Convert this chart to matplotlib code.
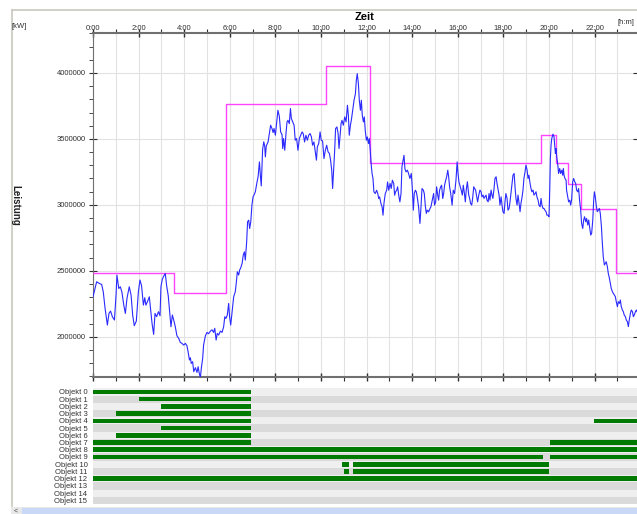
import matplotlib
matplotlib.use("Agg")
import matplotlib.pyplot as plt
from matplotlib.ticker import MultipleLocator, FuncFormatter
from matplotlib.lines import Line2D
from matplotlib.patches import Rectangle

plt.rcParams['font.family'] = ['Liberation Sans', 'DejaVu Sans']

# measured load [kW] over the day (hours)
load_h = [0.00, 0.16, 0.28, 0.38, 0.45, 0.53, 0.63, 0.70, 0.77, 0.85, 0.94, 1.01, 1.05, 1.13, 1.20, 1.27,
          1.35, 1.42, 1.49, 1.59, 1.67, 1.74, 1.81, 1.90, 1.99, 2.06, 2.13, 2.21, 2.27, 2.32, 2.40, 2.47,
          2.53, 2.59, 2.66, 2.72, 2.79, 2.87, 2.94, 2.98, 3.04, 3.11, 3.17, 3.23, 3.30, 3.38, 3.42, 3.48,
          3.54, 3.61, 3.68, 3.76, 3.83, 3.90, 3.98, 4.05, 4.12, 4.17, 4.23, 4.27, 4.31, 4.37, 4.42, 4.49,
          4.56, 4.61, 4.66, 4.71, 4.75, 4.81, 4.85, 4.93, 5.00, 5.07, 5.15, 5.22, 5.29, 5.34, 5.40, 5.45,
          5.51, 5.59, 5.66, 5.73, 5.78, 5.83, 5.89, 5.95, 5.99, 6.04, 6.10, 6.17, 6.24, 6.29, 6.33, 6.39,
          6.43, 6.48, 6.54, 6.59, 6.64, 6.68, 6.74, 6.78, 6.83, 6.87, 6.92, 6.97, 7.02, 7.06, 7.12, 7.19,
          7.24, 7.30, 7.34, 7.38, 7.44, 7.49, 7.53, 7.56, 7.60, 7.68, 7.73, 7.79, 7.85, 7.90, 7.94, 8.00,
          8.06, 8.11, 8.17, 8.23, 8.29, 8.32, 8.36, 8.41, 8.47, 8.51, 8.55, 8.61, 8.66, 8.70, 8.76, 8.82,
          8.87, 8.93, 8.99, 9.05, 9.11, 9.17, 9.22, 9.28, 9.34, 9.40, 9.46, 9.52, 9.58, 9.63, 9.69, 9.75,
          9.80, 9.84, 9.90, 9.96, 10.01, 10.07, 10.13, 10.19, 10.25, 10.31, 10.37, 10.42, 10.47, 10.51,
          10.56, 10.60, 10.64, 10.70, 10.75, 10.79, 10.83, 10.88, 10.92, 10.98, 11.04, 11.10, 11.16, 11.20,
          11.24, 11.29, 11.33, 11.39, 11.45, 11.51, 11.55, 11.59, 11.64, 11.68, 11.73, 11.77, 11.81, 11.86,
          11.90, 11.94, 11.99, 12.03, 12.08, 12.12, 12.16, 12.21, 12.24, 12.28, 12.32, 12.38, 12.44, 12.49,
          12.53, 12.57, 12.63, 12.68, 12.72, 12.76, 12.82, 12.88, 12.92, 12.97, 13.03, 13.08, 13.13, 13.19,
          13.23, 13.27, 13.32, 13.36, 13.42, 13.46, 13.51, 13.55, 13.60, 13.64, 13.68, 13.73, 13.79, 13.84,
          13.90, 13.96, 14.01, 14.05, 14.09, 14.14, 14.18, 14.22, 14.28, 14.34, 14.39, 14.43, 14.49, 14.53,
          14.58, 14.62, 14.66, 14.72, 14.78, 14.82, 14.88, 14.94, 14.98, 15.03, 15.07, 15.12, 15.16, 15.20,
          15.25, 15.29, 15.34, 15.38, 15.42, 15.47, 15.51, 15.56, 15.60, 15.64, 15.69, 15.75, 15.80, 15.86,
          15.92, 15.97, 16.01, 16.05, 16.11, 16.15, 16.20, 16.24, 16.29, 16.33, 16.37, 16.42, 16.48, 16.52,
          16.56, 16.61, 16.65, 16.70, 16.74, 16.78, 16.83, 16.87, 16.92, 16.97, 17.02, 17.06, 17.11, 17.15,
          17.19, 17.24, 17.28, 17.33, 17.37, 17.41, 17.46, 17.50, 17.54, 17.59, 17.63, 17.68, 17.72, 17.76,
          17.81, 17.85, 17.90, 17.94, 17.98, 18.03, 18.07, 18.11, 18.16, 18.20, 18.25, 18.29, 18.33, 18.38,
          18.42, 18.47, 18.51, 18.55, 18.60, 18.64, 18.68, 18.73, 18.77, 18.82, 18.86, 18.90, 18.95, 18.99,
          19.04, 19.08, 19.12, 19.17, 19.21, 19.25, 19.30, 19.34, 19.39, 19.43, 19.47, 19.52, 19.56, 19.61,
          19.65, 19.69, 19.74, 19.78, 19.82, 19.87, 19.91, 19.96, 20.00, 20.03, 20.06, 20.09, 20.12, 20.175,
          20.22, 20.25, 20.28, 20.31, 20.34, 20.38, 20.42, 20.47, 20.51, 20.56, 20.60, 20.63, 20.66, 20.70,
          20.75, 20.77, 20.82, 20.86, 20.91, 20.95, 20.99, 21.04, 21.08, 21.13, 21.17, 21.21, 21.26, 21.30,
          21.34, 21.39, 21.43, 21.48, 21.52, 21.56, 21.61, 21.65, 21.70, 21.74, 21.78, 21.83, 21.87, 21.92,
          21.96, 21.99, 22.03, 22.08, 22.12, 22.16, 22.21, 22.25, 22.30, 22.34, 22.38, 22.43, 22.47, 22.51,
          22.56, 22.60, 22.65, 22.69, 22.73, 22.78, 22.82, 22.87, 22.91, 22.95, 23.00, 23.04, 23.09, 23.13,
          23.17, 23.22, 23.26, 23.30, 23.35, 23.39, 23.44, 23.48, 23.52, 23.57, 23.61, 23.66, 23.70, 23.74,
          23.79, 23.83, 23.86]
load_kw = [2303000, 2417000, 2404000, 2397000, 2341000, 2215000, 2089000, 2177000, 2195000, 2152000,
           2127000, 2316000, 2467000, 2366000, 2379000, 2336000, 2240000, 2177000, 2291000, 2379000,
           2316000, 2165000, 2084000, 2119000, 2341000, 2430000, 2387000, 2240000, 2296000, 2240000,
           2271000, 2303000, 2202000, 2101000, 2018000, 2177000, 2152000, 2190000, 2159000, 2379000,
           2437000, 2462000, 2480000, 2387000, 2311000, 2159000, 2076000, 2165000, 2127000, 2076000,
           2008000, 1988000, 1957000, 1950000, 1937000, 1950000, 1932000, 1887000, 1824000, 1841000,
           1798000, 1811000, 1735000, 1766000, 1730000, 1773000, 1723000, 1690000, 1761000, 1836000,
           1937000, 2008000, 2033000, 2023000, 2043000, 2053000, 2033000, 2064000, 1975000, 2026000,
           2013000, 2043000, 2033000, 2076000, 2152000, 2139000, 2164000, 2253000, 2152000, 2089000,
           2190000, 2303000, 2341000, 2417000, 2493000, 2468000, 2505000, 2523000, 2556000, 2619000,
           2644000, 2581000, 2720000, 2872000, 2884000, 2821000, 2872000, 2998000, 3061000, 3074000,
           3099000, 3169000, 3212000, 3326000, 3225000, 3144000, 3422000, 3478000, 3447000, 3364000,
           3447000, 3478000, 3533000, 3604000, 3579000, 3548000, 3579000, 3528000, 3629000, 3717000,
           3674000, 3553000, 3533000, 3427000, 3503000, 3414000, 3553000, 3629000, 3641000, 3616000,
           3730000, 3654000, 3629000, 3604000, 3490000, 3503000, 3414000, 3503000, 3528000, 3553000,
           3541000, 3477000, 3528000, 3490000, 3528000, 3541000, 3515000, 3452000, 3477000, 3402000,
           3339000, 3440000, 3465000, 3553000, 3490000, 3485000, 3351000, 3414000, 3452000, 3402000,
           3389000, 3339000, 3263000, 3124000, 3288000, 3414000, 3578000, 3591000, 3541000, 3427000,
           3515000, 3616000, 3641000, 3604000, 3667000, 3629000, 3755000, 3679000, 3528000, 3604000,
           3641000, 3717000, 3793000, 3844000, 3945000, 3995000, 3919000, 3793000, 3717000, 3793000,
           3679000, 3629000, 3667000, 3566000, 3490000, 3515000, 3465000, 3503000, 3414000, 3288000,
           3238000, 3200000, 3099000, 3086000, 3111000, 3086000, 3048000, 3061000, 3010000, 2985000,
           2922000, 3010000, 3086000, 3111000, 3174000, 3111000, 3162000, 3124000, 3187000, 3162000,
           3073000, 3099000, 3111000, 3137000, 3061000, 3023000, 3086000, 3288000, 3339000, 3376000,
           3275000, 3250000, 3263000, 3238000, 3200000, 3238000, 3111000, 2960000, 3086000, 3111000,
           3099000, 3061000, 2985000, 2859000, 2998000, 3124000, 3111000, 3086000, 2985000, 2935000,
           2960000, 2947000, 2972000, 2985000, 3036000, 3086000, 2998000, 3023000, 3137000, 3073000,
           3036000, 3111000, 3137000, 3149000, 3048000, 3086000, 3149000, 3187000, 3212000, 3263000,
           3212000, 3137000, 3086000, 2998000, 3111000, 3086000, 3187000, 3326000, 3238000, 3174000,
           3137000, 3111000, 3074000, 3149000, 3086000, 3023000, 3112000, 3175000, 3074000, 3049000,
           3011000, 2998000, 3049000, 3137000, 3124000, 3112000, 3061000, 3023000, 3074000, 3112000,
           3099000, 3061000, 3074000, 3049000, 3061000, 3074000, 3036000, 3023000, 3086000, 3036000,
           3112000, 3074000, 3049000, 3124000, 3200000, 3213000, 3162000, 3124000, 3074000, 2998000,
           3061000, 2998000, 2948000, 2935000, 3023000, 3086000, 3049000, 2960000, 2973000, 3023000,
           3086000, 3162000, 3225000, 3238000, 3137000, 3049000, 2998000, 3074000, 3023000, 2948000,
           3011000, 3061000, 3112000, 3200000, 3251000, 3301000, 3263000, 3200000, 3225000, 3162000,
           3124000, 3099000, 3112000, 3074000, 3086000, 3099000, 3061000, 3036000, 2998000, 2985000,
           3049000, 2998000, 2973000, 2973000, 2960000, 2948000, 2922000, 2922000, 2910000, 3099000,
           3352000, 3453000, 3503000, 3536000, 3516000, 3453000, 3390000, 3427000, 3364000, 3314000,
           3238000, 3276000, 3238000, 3263000, 3225000, 3276000, 3225000, 3200000, 3187000, 3112000,
           3061000, 3023000, 3036000, 2998000, 3036000, 3175000, 3200000, 3175000, 3162000, 3112000,
           3099000, 3124000, 3036000, 2960000, 2859000, 2821000, 2885000, 2910000, 2872000, 2897000,
           2847000, 2885000, 2834000, 2771000, 2784000, 2885000, 3036000, 3099000, 3061000, 2985000,
           2948000, 2960000, 2973000, 2935000, 2834000, 2708000, 2607000, 2544000, 2556000, 2569000,
           2531000, 2481000, 2443000, 2405000, 2367000, 2342000, 2329000, 2316000, 2304000, 2266000,
           2228000, 2266000, 2253000, 2279000, 2228000, 2203000, 2190000, 2165000, 2152000, 2127000,
           2114000, 2077000, 2127000, 2177000, 2203000, 2190000, 2152000, 2165000, 2190000, 2203000,
           2190000]

# planned load steps (magenta)
plan_h = [0.0, 3.57, 5.85, 10.23, 12.16, 19.66, 20.32, 20.82, 21.42, 22.93, 24.0]
plan_kw = [2480000, 2329000, 3763000, 4055000, 3321000, 3526000, 3321000, 3155000, 2967000, 2480000, 2480000]

# object activity (start hour, end hour)
objects = ['Objekt %d' % i for i in range(16)]
active = [
    [(0, 6.95)],
    [(2.0, 6.95)],
    [(3.0, 6.95)],
    [(1.0, 6.95)],
    [(0, 6.95), (21.97, 24)],
    [(3.0, 6.95)],
    [(1.0, 6.95)],
    [(0, 6.95), (20.03, 24)],
    [(0, 24)],
    [(0, 19.74), (20.03, 24)],
    [(10.91, 11.24), (11.40, 19.99)],
    [(11.0, 11.24), (11.40, 19.99)],
    [(0, 24)],
    [], [], [],
]

hour_ticks = list(range(0, 24, 2))
y_ticks = [2000000, 2500000, 3000000, 3500000, 4000000]

W, H = 637, 514
fig = plt.figure(figsize=(W / 100, H / 100), dpi=100)
fig.patch.set_facecolor('white')

def fx(px):
    return px / W

def fy(py):
    return 1 - py / H

xmax = (637 - 93) / 22.8
tick_col = '#303030'
ax = fig.add_axes([fx(93), fy(377), 1 - fx(93), fy(33) - fy(377)])
ax.step(plan_h, plan_kw, where='post', color='#ff44ff', lw=1.0, zorder=3)
ax.plot(load_h, load_kw, color='#2a2aff', lw=0.8, zorder=4)
ax.set_xlim(0, xmax)
ax.set_ylim(1695000, 4303000)

ax.set_xticks(hour_ticks)
ax.xaxis.set_minor_locator(MultipleLocator(1))
ax.xaxis.set_major_formatter(FuncFormatter(lambda v, p: '%d:00' % v))
ax.set_yticks(y_ticks)
ax.yaxis.set_minor_locator(MultipleLocator(100000))
ax.yaxis.set_major_formatter(FuncFormatter(lambda v, p: '%d' % v))

ax.tick_params(axis='x', which='both', top=True, bottom=True, labeltop=True, labelbottom=False,
               labelsize=5.5, colors=tick_col, pad=-2.5)
ax.tick_params(axis='x', which='major', length=6, width=1, direction='inout')
ax.tick_params(axis='x', which='minor', length=3, width=0.8, direction='out')
ax.tick_params(axis='y', which='both', labelsize=5.5, colors=tick_col, pad=2)
ax.tick_params(axis='y', which='major', length=6, width=0.8, direction='inout', right=True)
ax.tick_params(axis='y', which='minor', length=3, width=0.6, direction='out', right=False)

ax.grid(True, which='minor', axis='x', color='#e2e2e2', lw=0.8)
ax.grid(True, which='major', axis='x', color='#e2e2e2', lw=0.8)
ax.grid(True, which='major', axis='y', color='#e2e2e2', lw=0.8)
ax.set_axisbelow(True)
for s in ['top', 'bottom', 'left']:
    ax.spines[s].set_color('#707070')
ax.spines['top'].set_linewidth(1.5)
ax.spines['bottom'].set_linewidth(1.5)
ax.spines['right'].set_visible(False)

fig.text(fx(365), fy(17), 'Zeit', fontsize=8, fontweight='bold', ha='center', va='center')
fig.text(fx(634), fy(22), '[h:m]', fontsize=5.5, ha='right', va='center', color=tick_col)
fig.text(fx(12), fy(26), '[kW]', fontsize=5.5, ha='left', va='center', color=tick_col)
fig.text(fx(15), fy(205), 'Leistung', fontsize=7, fontweight='bold', rotation=270,
         ha='center', va='center', color='#202020')

# object activity panel
gx = fig.add_axes([fx(93), fy(504), 1 - fx(93), fy(388.3) - fy(504)])
rows = list(range(len(objects)))
gx.barh(rows, [xmax] * len(rows), left=0, height=1.0,
        color=['#efefef' if i % 2 == 0 else '#dadada' for i in rows], zorder=1)
for i, spans in enumerate(active):
    for a, b in spans:
        gx.barh(i, b - a, left=a, height=0.64, color='#007a00', zorder=2)
gx.set_xlim(0, xmax)
gx.set_ylim(len(objects) - 0.5, -0.5)
gx.set_yticks(rows)
gx.set_yticklabels(objects)
gx.set_xticks([])
gx.tick_params(axis='y', length=0, labelsize=5.5, colors=tick_col, pad=4)
for s in gx.spines.values():
    s.set_visible(False)

# window frame and scrollbar
fig.add_artist(Line2D([fx(11.5), 1], [fy(9.5), fy(9.5)], color='#c8c8c0', lw=1.2))
fig.add_artist(Line2D([fx(11.5), fx(11.5)], [fy(9.5), fy(506)], color='#c8c8c0', lw=1.2))
fig.add_artist(Rectangle((fx(11), 0), 1 - fx(11), fy(507), color='#e8e8e8', lw=0))
fig.add_artist(Rectangle((fx(22), 0), 1 - fx(22), fy(507.5), color='#c9d8f6', lw=0))
fig.text(fx(16), fy(511), '<', fontsize=5, ha='center', va='center', color='#404040')

fig.savefig('out.png', dpi=100)
